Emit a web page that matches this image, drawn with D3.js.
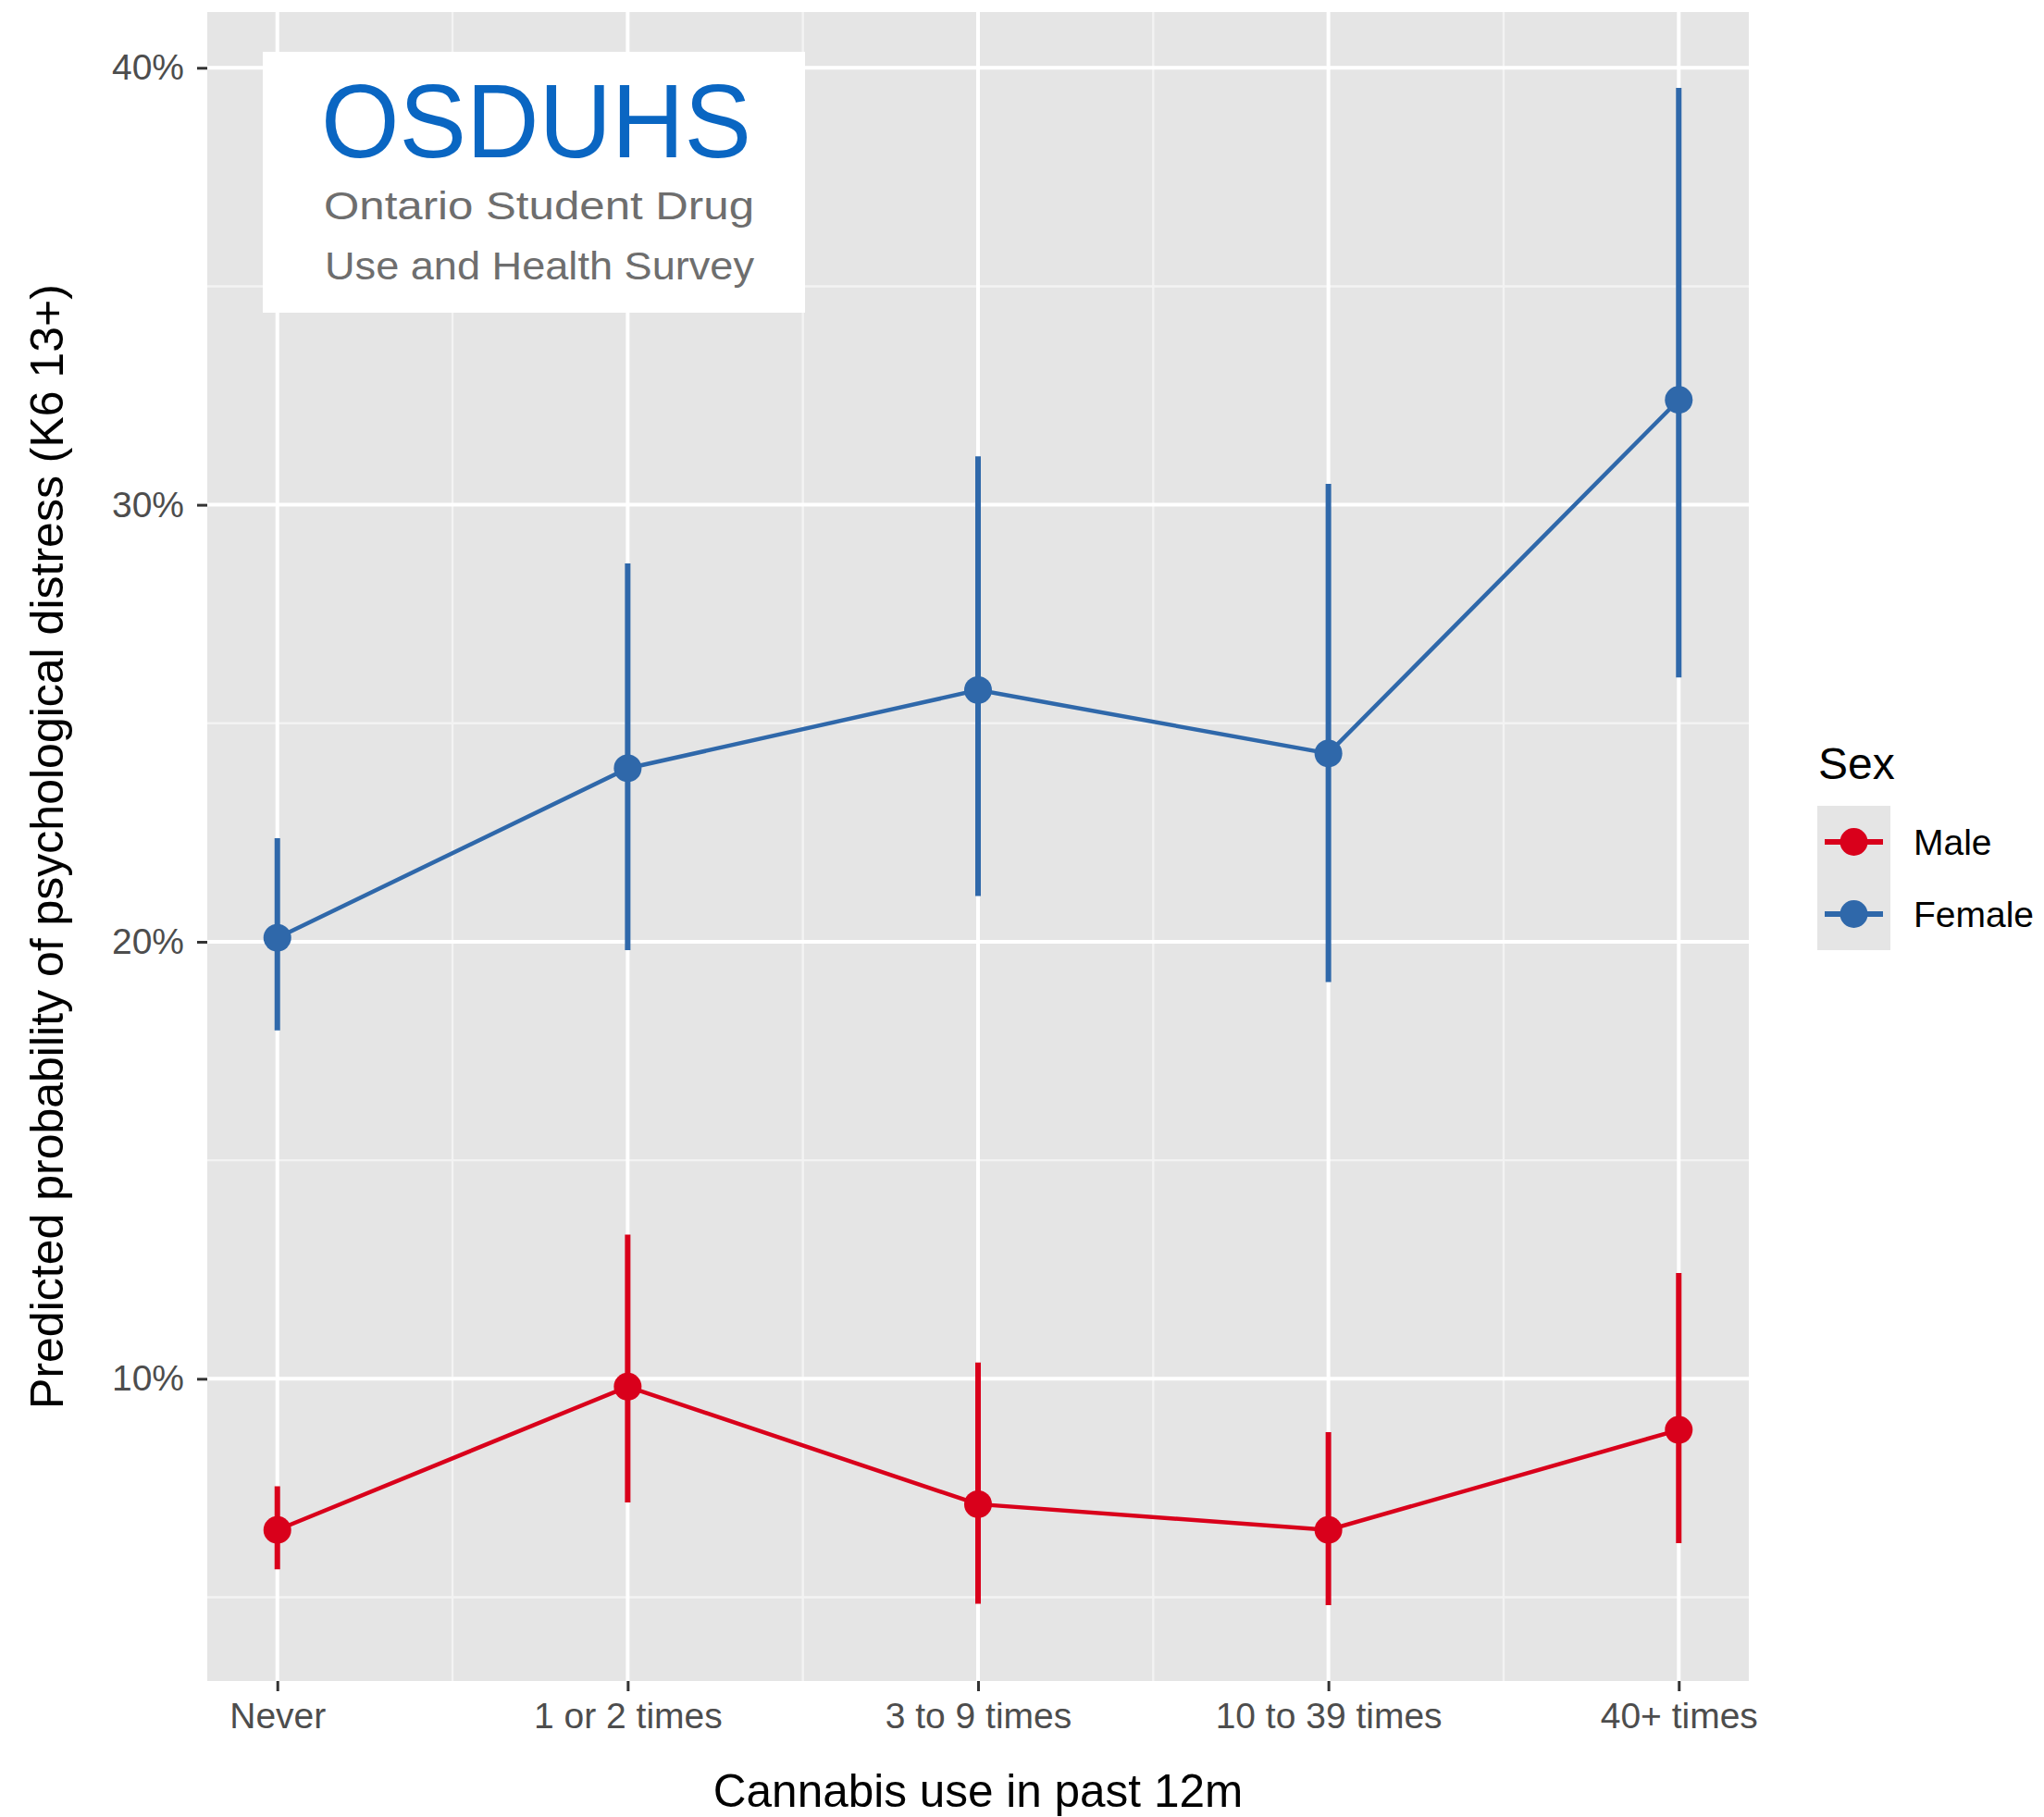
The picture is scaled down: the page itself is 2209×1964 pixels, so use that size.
<!DOCTYPE html>
<html>
<head>
<meta charset="utf-8">
<script src="https://cdn.jsdelivr.net/npm/d3@7"></script>
<style>
  html, body { margin: 0; padding: 0; background: #ffffff; }
  svg { display: block; }
  text { font-family: "Liberation Sans", Arial, Helvetica, sans-serif; }
</style>
</head>
<body>
<svg id="chart" width="2209" height="1964"></svg>
<script>
// ---- data ----
const categories = ["Never", "1 or 2 times", "3 to 9 times", "10 to 39 times", "40+ times"];
const seriesNames = ["Male", "Female"];
const seriesColors = ["#d9001b", "#2f68aa"];

const maleEst  = [6.54, 9.82, 7.13, 6.54, 8.83];
const maleLow  = [5.64, 7.17, 4.85, 4.82, 6.24];
const maleHigh = [7.54, 13.30, 10.37, 8.78, 12.42];

const femaleEst  = [20.09, 23.97, 25.76, 24.31, 32.40];
const femaleLow  = [17.97, 19.81, 21.05, 19.08, 26.05];
const femaleHigh = [22.37, 28.66, 31.11, 30.48, 39.54];

const yTickValues = [10, 20, 30, 40];
const yMinorValues = [5, 15, 25, 35];
const xTitle = "Cannabis use in past 12m";
const yTitle = "Predicted probability of psychological distress (K6 13+)";
const legendTitle = "Sex";
const logoLines = ["OSDUHS", "Ontario Student Drug", "Use and Health Survey"];

// ---- layout ----
const panel = { left: 224, right: 1890, top: 13, bottom: 1817 };
const svg = d3.select("#chart");

const series = [
  { name: seriesNames[0], color: seriesColors[0], est: maleEst, low: maleLow, high: maleHigh },
  { name: seriesNames[1], color: seriesColors[1], est: femaleEst, low: femaleLow, high: femaleHigh }
];

const allVals = maleLow.concat(maleHigh, femaleLow, femaleHigh);
const lo = d3.min(allVals), hi = d3.max(allVals), span = hi - lo;

const x = d3.scalePoint().domain(categories).range([panel.left, panel.right]).padding(0.2);
const y = d3.scaleLinear().domain([lo - 0.05 * span, hi + 0.05 * span]).range([panel.bottom, panel.top]);

// panel background
svg.append("rect")
  .attr("x", panel.left).attr("y", panel.top)
  .attr("width", panel.right - panel.left).attr("height", panel.bottom - panel.top)
  .attr("fill", "#e5e5e5");

// minor grid
const step = x.step();
const xMinor = categories.slice(0, -1).map(c => x(c) + step / 2);
const grid = svg.append("g");
grid.selectAll(".ymin").data(yMinorValues).enter().append("line")
  .attr("x1", panel.left).attr("x2", panel.right)
  .attr("y1", d => y(d)).attr("y2", d => y(d))
  .attr("stroke", "#f3f3f3").attr("stroke-width", 2.4);
grid.selectAll(".xmin").data(xMinor).enter().append("line")
  .attr("y1", panel.top).attr("y2", panel.bottom)
  .attr("x1", d => d).attr("x2", d => d)
  .attr("stroke", "#f3f3f3").attr("stroke-width", 2.4);
// major grid
grid.selectAll(".ymaj").data(yTickValues).enter().append("line")
  .attr("x1", panel.left).attr("x2", panel.right)
  .attr("y1", d => y(d)).attr("y2", d => y(d))
  .attr("stroke", "#ffffff").attr("stroke-width", 4);
grid.selectAll(".xmaj").data(categories).enter().append("line")
  .attr("y1", panel.top).attr("y2", panel.bottom)
  .attr("x1", d => x(d)).attr("x2", d => x(d))
  .attr("stroke", "#ffffff").attr("stroke-width", 4);

// logo box
const logo = svg.append("g")
  .style("font-family", "'DejaVu Sans Condensed', 'DejaVu Sans', Verdana, sans-serif");
logo.append("rect").attr("x", 284).attr("y", 56).attr("width", 586).attr("height", 282).attr("fill", "#ffffff");
logo.append("text").attr("x", 347).attr("y", 170)
  .attr("font-size", 113).attr("fill", "#0a66c2")
  .attr("textLength", 465).attr("lengthAdjust", "spacingAndGlyphs")
  .text(logoLines[0]);
logo.append("text").attr("x", 350).attr("y", 237)
  .attr("font-size", 43).attr("fill", "#6e6e6e")
  .attr("textLength", 465).attr("lengthAdjust", "spacingAndGlyphs")
  .text(logoLines[1]);
logo.append("text").attr("x", 351).attr("y", 302)
  .attr("font-size", 43).attr("fill", "#6e6e6e")
  .attr("textLength", 464).attr("lengthAdjust", "spacingAndGlyphs")
  .text(logoLines[2]);

// axes
const yAxis = svg.append("g").attr("transform", `translate(${panel.left},0)`)
  .call(d3.axisLeft(y).tickValues(yTickValues).tickFormat(d => d + "%").tickSize(11).tickPadding(14));
const xAxis = svg.append("g").attr("transform", `translate(0,${panel.bottom})`)
  .call(d3.axisBottom(x).tickSize(11).tickPadding(12));
[yAxis, xAxis].forEach(a => {
  a.select(".domain").remove();
  a.selectAll(".tick line").attr("stroke", "#333333").attr("stroke-width", 3);
  a.selectAll(".tick text").attr("fill", "#4d4d4d").attr("font-size", 39)
    .style("font-family", "'Liberation Sans', Arial, sans-serif");
});

// axis titles
svg.append("text").attr("x", (panel.left + panel.right) / 2).attr("y", 1953)
  .attr("text-anchor", "middle").attr("font-size", 49.5).attr("fill", "#000")
  .text(xTitle);
svg.append("text")
  .attr("transform", `translate(68,${(panel.top + panel.bottom) / 2}) rotate(-90)`)
  .attr("text-anchor", "middle").attr("font-size", 50).attr("fill", "#000")
  .text(yTitle);

// series
const plot = svg.append("g");
series.forEach(s => {
  const pts = categories.map((c, i) => ({ c, est: s.est[i], low: s.low[i], high: s.high[i] }));
  plot.append("path").datum(pts)
    .attr("fill", "none").attr("stroke", s.color).attr("stroke-width", 4.5)
    .attr("d", d3.line().x(d => x(d.c)).y(d => y(d.est)));
  plot.selectAll(null).data(pts).enter().append("line")
    .attr("x1", d => x(d.c)).attr("x2", d => x(d.c))
    .attr("y1", d => y(d.low)).attr("y2", d => y(d.high))
    .attr("stroke", s.color).attr("stroke-width", 6);
  plot.selectAll(null).data(pts).enter().append("circle")
    .attr("cx", d => x(d.c)).attr("cy", d => y(d.est)).attr("r", 15)
    .attr("fill", s.color);
});

// legend
const lg = svg.append("g");
lg.append("text").attr("x", 1965).attr("y", 842).attr("font-size", 48).attr("fill", "#000").text(legendTitle);
lg.append("rect").attr("x", 1964).attr("y", 871).attr("width", 79).attr("height", 156).attr("fill", "#e5e5e5");
series.forEach((s, i) => {
  const cy = 910 + i * 78;
  lg.append("line").attr("x1", 1972).attr("x2", 2035).attr("y1", cy).attr("y2", cy)
    .attr("stroke", s.color).attr("stroke-width", 6);
  lg.append("circle").attr("cx", 2003.5).attr("cy", cy).attr("r", 15).attr("fill", s.color);
  lg.append("text").attr("x", 2068).attr("y", cy + 14).attr("font-size", 39).attr("fill", "#000").text(s.name);
});
</script>
</body>
</html>
